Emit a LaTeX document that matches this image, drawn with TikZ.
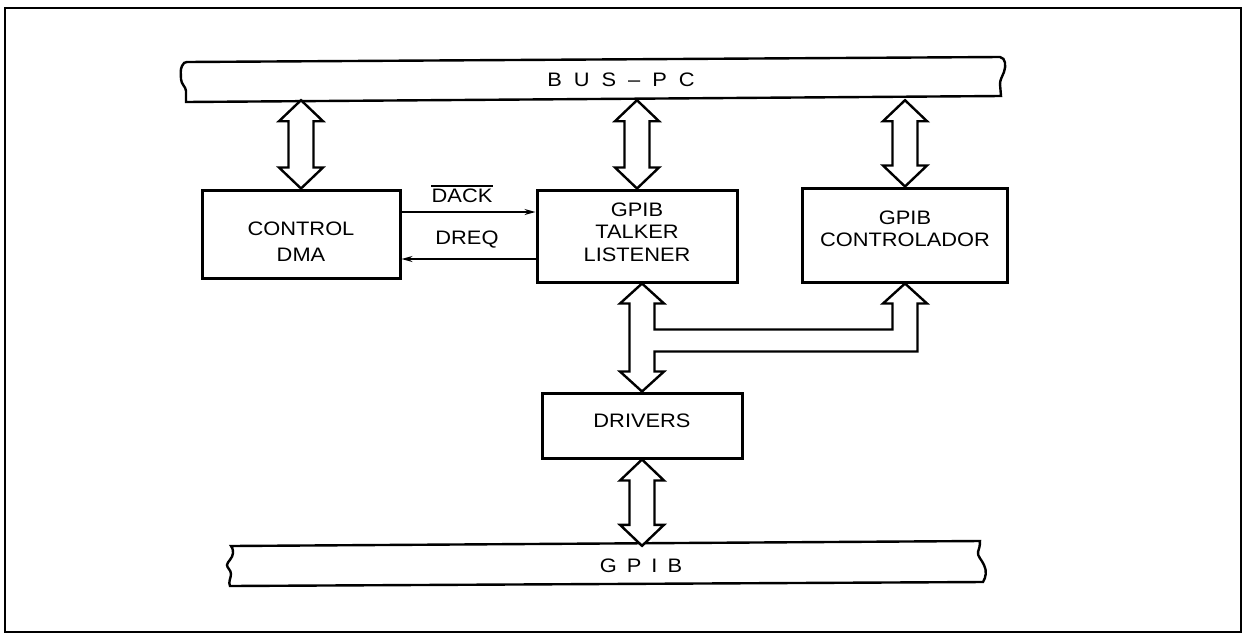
\documentclass[tikz,border=0pt]{standalone}
\usepackage{fontspec}
\setmainfont{Liberation Sans}[FakeStretch=1.12]
\usetikzlibrary{arrows.meta,calc}
\newcommand\fs{\fontsize{19.5}{22.5}\selectfont}
\newcommand\stk[2]{\raisebox{#1}[\height][\depth]{\begin{tabular}{@{}c@{}}#2\end{tabular}}}
\newcommand\fatvert[2]{% #1 top tip, #2 bottom tip
  \draw[fat] (#1) -- ([shift={(22,21)}]#1) -- ([shift={(12.5,21)}]#1)
    -- ([shift={(12.5,-21)}]#2) -- ([shift={(22,-21)}]#2) -- (#2)
    -- ([shift={(-22,-21)}]#2) -- ([shift={(-12.5,-21)}]#2)
    -- ([shift={(-12.5,21)}]#1) -- ([shift={(-22,21)}]#1) -- cycle;}
\begin{document}
\begin{tikzpicture}[x=1pt,y=-1pt,
  blk/.style={draw,line width=3pt,align=center,font=\fs,inner sep=0pt},
  fat/.style={draw,line width=2.4pt,fill=white,line join=miter},
  sig/.style={line width=1.4pt},
  busline/.style={line width=2.4pt},
  buslabel/.style={font=\fs,inner sep=0pt,minimum height=40pt},
  sigtip/.style={-{Stealth[length=11pt,width=6pt]}},
  lbl/.style={font=\fs,inner sep=0pt}]
\useasboundingbox (0,0) rectangle (1244,635);
\draw[line width=1.4pt] (5,8) rectangle (1241,632);

% buses
\draw[busline] (187,62) -- (1000,57)
  .. controls (1006,58) and (1006,66) .. (1004,72)
  .. controls (1002,77) and (1000,80) .. (1000,84)
  -- (1001,96) -- (186,102) -- (186,91)
  .. controls (186,87) and (181,84) .. (181,79)
  .. controls (181,74) and (180,70) .. (182,66)
  .. controls (183,63) and (185,62) .. (187,62) -- cycle;
\node[buslabel] (pcbus) at (621,80) {B\hskip12pt U\hskip12pt S\hskip12pt --\hskip12pt P\hskip12pt C};

\draw[busline] (231,546) -- (980,541)
  .. controls (980,546) and (979,549) .. (978,552)
  .. controls (977,556) and (982,560) .. (984,565)
  .. controls (987,571) and (986,577) .. (983,582)
  -- (230,586)
  .. controls (228,582) and (231,578) .. (231,574)
  .. controls (231,570) and (227,568) .. (227,565)
  .. controls (227,562) and (233,558) .. (233,553)
  .. controls (233,549) and (232,547) .. (231,546) -- cycle;

% blocks
\node[blk,minimum width=198pt,minimum height=88pt] (dma) at (301,234)
  {\stk{-10pt}{CONTROL\\[3pt]DMA}};
\node[blk,minimum width=200pt,minimum height=92pt] (tl) at (637,236)
  {\stk{2pt}{GPIB\\TALKER\\LISTENER}};
\node[blk,minimum width=205pt,minimum height=94pt] (ctl) at (905,235)
  {\stk{4pt}{GPIB\\CONTROLADOR}};
\node[blk,minimum width=200pt,minimum height=65pt] (dr) at (642,425.5)
  {\stk{3pt}{DRIVERS}};

\node[buslabel] (gpib) at (641,566) {G\hskip10pt P\hskip10pt I\hskip10pt B};

% fat arrows to the PC bus
\coordinate (a1) at (dma.north |- pcbus.south);
\coordinate (a2) at (tl.north |- pcbus.south);
\coordinate (a3) at (ctl.north |- pcbus.south);
\fatvert{a1}{dma.north}
\fatvert{a2}{tl.north}
\fatvert{a3}{ctl.north}

% talker / drivers / controlador bus with branch
\coordinate (tt) at (dr.north |- tl.south);
\coordinate (db) at (dr.north);
\coordinate (ct) at (ctl.south);
\draw[fat] (tt) -- ([shift={(22,20)}]tt) -- ([shift={(12.5,20)}]tt)
  -- ([shift={(12.5,46)}]tt) -- ([shift={(-12.5,46)}]ct)
  -- ([shift={(-12.5,20)}]ct) -- ([shift={(-22,20)}]ct) -- (ct)
  -- ([shift={(22,20)}]ct) -- ([shift={(12.5,20)}]ct)
  -- ([shift={(12.5,68)}]ct) -- ([shift={(12.5,68)}]tt)
  -- ([shift={(12.5,-20)}]db) -- ([shift={(22,-20)}]db) -- (db)
  -- ([shift={(-22,-20)}]db) -- ([shift={(-12.5,-20)}]db)
  -- ([shift={(-12.5,20)}]tt) -- ([shift={(-22,20)}]tt) -- cycle;

% drivers to GPIB
\coordinate (g1) at (dr.south |- gpib.north);
\fatvert{dr.south}{g1}

% DACK / DREQ
\coordinate (d1) at ([yshift=22pt]dma.east);
\coordinate (d2) at ([yshift=-25pt]dma.east);
\draw[sig,sigtip] (d1) -- (d1 -| tl.west);
\draw[sig,sigtip] (d2 -| tl.west) -- (d2);
\node[lbl] (dack) at (462,196) {DACK};
\draw[line width=1.6pt] ([yshift=3pt]dack.north west) -- ([yshift=3pt]dack.north east);
\node[lbl] (dreq) at (467,240) {DREQ};
\end{tikzpicture}
\end{document}
